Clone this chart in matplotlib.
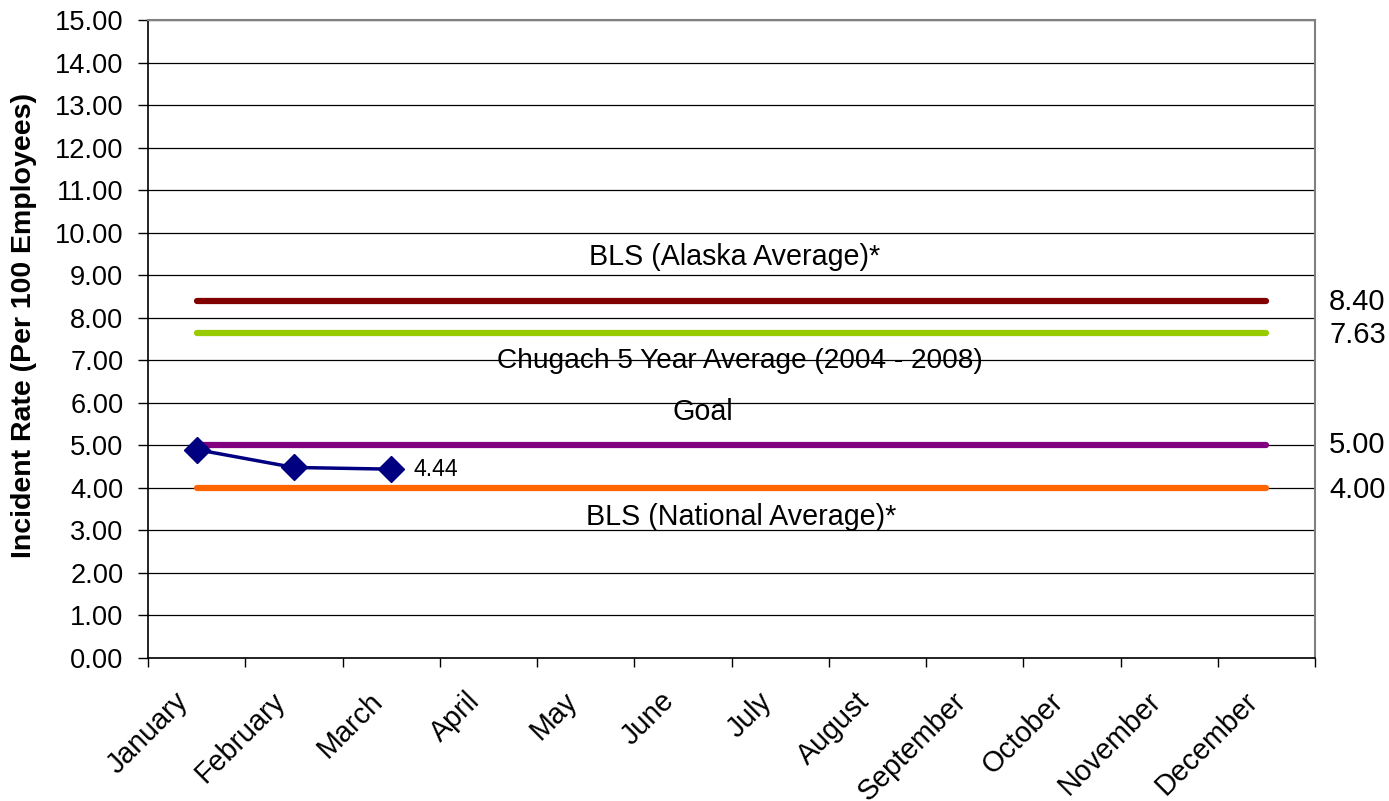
import matplotlib
matplotlib.use("Agg")
import matplotlib.pyplot as plt
import numpy as np

plt.rcParams['font.family'] = ['Liberation Sans', 'DejaVu Sans']

months = ["January", "February", "March", "April", "May", "June", "July",
          "August", "September", "October", "November", "December"]
actual = [4.90, 4.48, 4.44]
bls_alaska = 8.40
chugach_avg = 7.63
goal = 5.00
bls_national = 4.00

fig = plt.figure(figsize=(13.89, 8.01), dpi=100)
ax = fig.add_axes([148/1389, 1-658/801, (1315-148)/1389, (658-20)/801])

x = np.arange(len(months))
ax.set_xlim(-0.5, len(months)-0.5)
ax.set_ylim(0, 15)

# gridlines
ax.set_yticks(np.arange(0, 16, 1))
ax.set_yticklabels([f"{v:.2f}" for v in np.arange(0, 16, 1)], fontsize=19.6)
ax.yaxis.grid(True, color='black', linewidth=0.9)
ax.set_axisbelow(True)

ref_lines = [
    (bls_alaska, '#800000'),
    (chugach_avg, '#99CC00'),
    (goal, '#800080'),
    (bls_national, '#FF6600'),
]
for val, col in ref_lines:
    ax.plot(x, [val]*len(months), color=col, linewidth=4.5, solid_capstyle='round', zorder=3)

ax.plot(x[:len(actual)], actual, color='#000080', linewidth=2.5, marker='D',
        markersize=13, markerfacecolor='#000080', markeredgecolor='#000080', zorder=4)
ax.annotate(f"{actual[-1]:.2f}", (x[len(actual)-1], actual[-1]), xytext=(16, 0),
            textcoords='offset points', fontsize=16.6, va='center', ha='left')

# labels for reference lines (baseline placed)
ax.text(5.53, 9.24, "BLS (Alaska Average)*", fontsize=20.6, ha='center', va='baseline', zorder=5)
ax.text(5.59, 6.82, "Chugach 5 Year Average (2004 - 2008)", fontsize=20.2, ha='center', va='baseline', zorder=1)
ax.text(5.21, 5.60, "Goal", fontsize=20.6, ha='center', va='baseline', zorder=1)
ax.text(5.60, 3.13, "BLS (National Average)*", fontsize=20.6, ha='center', va='baseline', zorder=5)

# right-side value labels
for val, ytxt in [(bls_alaska, 8.38), (chugach_avg, 7.60), (goal, 5.0), (bls_national, 3.94)]:
    ax.text(1.012, ytxt/15, f"{val:.2f}", transform=ax.transAxes, fontsize=21,
            ha='left', va='center')

# x ticks at category boundaries, labels near centers
ax.set_xticks(np.arange(-0.5, len(months), 1))
ax.set_xticklabels([])
ax.set_xticks(x - 0.13, minor=True)
ax.set_xticklabels(months, minor=True, rotation=45, ha='right', va='center',
                   rotation_mode='anchor', fontsize=20.6)
ax.tick_params(axis='x', which='major', length=6.5, width=1, color='black', direction='out')
ax.tick_params(axis='x', which='minor', length=0, pad=28)
ax.tick_params(axis='y', length=7.2, width=1, direction='out', pad=10.5)

for s in ['left', 'bottom']:
    ax.spines[s].set_color('black')
    ax.spines[s].set_linewidth(1.2)
for s in ['top', 'right']:
    ax.spines[s].set_color('#808080')
    ax.spines[s].set_linewidth(1.5)

fig.text(24/1389, 1-325/801, "Incident Rate (Per 100 Employees)", rotation=90,
         fontsize=20.5, fontweight='bold', ha='center', va='center')

fig.savefig("out.png", dpi=100)
